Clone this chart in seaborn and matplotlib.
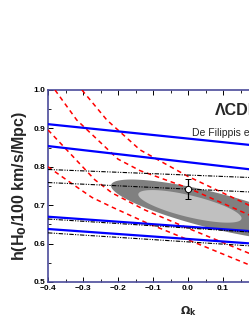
import numpy as np
import matplotlib
matplotlib.use("Agg")
import matplotlib.pyplot as plt
import seaborn as sns

sns.set_style("ticks")
plt.rcParams['font.family'] = ['Liberation Sans', 'DejaVu Sans']

# straight constraint lines, h at omega_k = -0.4 and 0.4
line_x = [-0.4, 0.4]
blue_lines = [
    [0.911, 0.836],
    [0.854, 0.770],
    [0.670, 0.618],
    [0.638, 0.586],
]
black_lines = [
    [0.793, 0.764],
    [0.759, 0.725],
    [0.664, 0.617],
    [0.628, 0.581],
]

# red dashed curves (omega_k, h)
red_x = [
    [-0.303, -0.232, -0.137, 0.0, 0.174, 0.4],
    [-0.38, -0.318, -0.2, -0.137, 0.0, 0.174, 0.4],
    [-0.4, -0.266, -0.217, -0.123, 0.0, 0.174, 0.4],
    [-0.4, -0.33, -0.274, -0.217, -0.123, 0.0, 0.174, 0.4],
]
red_h = [
    [1.0, 0.922, 0.844, 0.775, 0.70, 0.63],
    [1.0, 0.922, 0.82, 0.79, 0.745, 0.675, 0.61],
    [0.896, 0.766, 0.732, 0.6875, 0.64, 0.575, 0.52],
    [0.80, 0.755, 0.72, 0.695, 0.656, 0.61, 0.545, 0.49],
]

# confidence regions: centre, half length, half thickness, tilt slope
ell_outer = dict(cx=0.07, cy=0.687, a=0.29, b=0.048, k=-0.22)
ell_inner = dict(cx=0.0055, cy=0.697, a=0.1475, b=0.029, k=-0.21)

# measurement
pt_x = [0.0]
pt_h = [0.742]
pt_err = [0.027]

fig = plt.figure(figsize=(2.49, 3.23), dpi=100)
ax = fig.add_axes([48 / 249, 41 / 323, 280 / 249, 192 / 323])

t = np.linspace(0, 2 * np.pi, 200)
for e, c in [(ell_outer, '#808080'), (ell_inner, '#c0c0c0')]:
    ex = e['cx'] + e['a'] * np.cos(t)
    ey = e['cy'] + e['k'] * e['a'] * np.cos(t) + e['b'] * np.sin(t)
    ax.fill(ex, ey, color=c, lw=0, zorder=1)

for xs, hs in zip(red_x, red_h):
    ln = sns.lineplot(x=xs, y=hs, ax=ax, color='red', lw=1.1, sort=False,
                      zorder=3).lines[-1]
    ln.set_dashes([3, 2.5])

for hs in blue_lines:
    sns.lineplot(x=line_x, y=hs, ax=ax, color='#0000ff', lw=1.6, zorder=4)

for hs in black_lines:
    ln = sns.lineplot(x=line_x, y=hs, ax=ax, color='black', lw=0.8, zorder=4).lines[-1]
    ln.set_dashes([4, 1.2, 1, 1.2, 1, 1.2])

ax.errorbar(pt_x, pt_h, yerr=pt_err, fmt='o', color='black', mfc='white',
            mec='black', ms=4.5, mew=0.7, capsize=2.2, elinewidth=0.9, capthick=0.9,
            zorder=6)

ax.set_xlim(-0.4, 0.4)
ax.set_ylim(0.5, 1.0)
ax.set_xticks([-0.4, -0.3, -0.2, -0.1, 0.0, 0.1, 0.2, 0.3, 0.4])
ax.set_yticks([0.5, 0.6, 0.7, 0.8, 0.9, 1.0])
ax.set_xticks(np.arange(-0.35, 0.4, 0.1), minor=True)
ax.set_yticks([0.55, 0.65, 0.75, 0.85, 0.95], minor=True)
ax.tick_params(which='both', direction='in', top=True, right=True,
               colors='black', labelsize=6)
ax.tick_params(which='major', length=3.5, width=0.7)
ax.tick_params(which='minor', length=2, width=0.6)
for lab in ax.get_xticklabels() + ax.get_yticklabels():
    lab.set_fontweight('bold')
ax.tick_params(axis='x', pad=2)
ax.tick_params(axis='y', pad=2)
for s in ax.spines.values():
    s.set_color('#4b4b9b')
    s.set_linewidth(1.2)
    s.set_visible(True)

ax.set_ylabel(r'h(H$_\mathbf{0}$/100 km/s/Mpc)', fontsize=11.5, fontweight='bold',
              labelpad=3)
ax.set_xlabel(r'$\mathbf{\Omega_k}$', fontsize=8, labelpad=9)

ax.text(0.077, 0.947, 'ΛCDM', fontsize=11.5, fontweight='bold', va='center',
        ha='left')
ax.text(0.011, 0.888, 'De Filippis et al. (2005)', fontsize=7.5, va='center',
        ha='left')

fig.savefig('out.png', dpi=100)
